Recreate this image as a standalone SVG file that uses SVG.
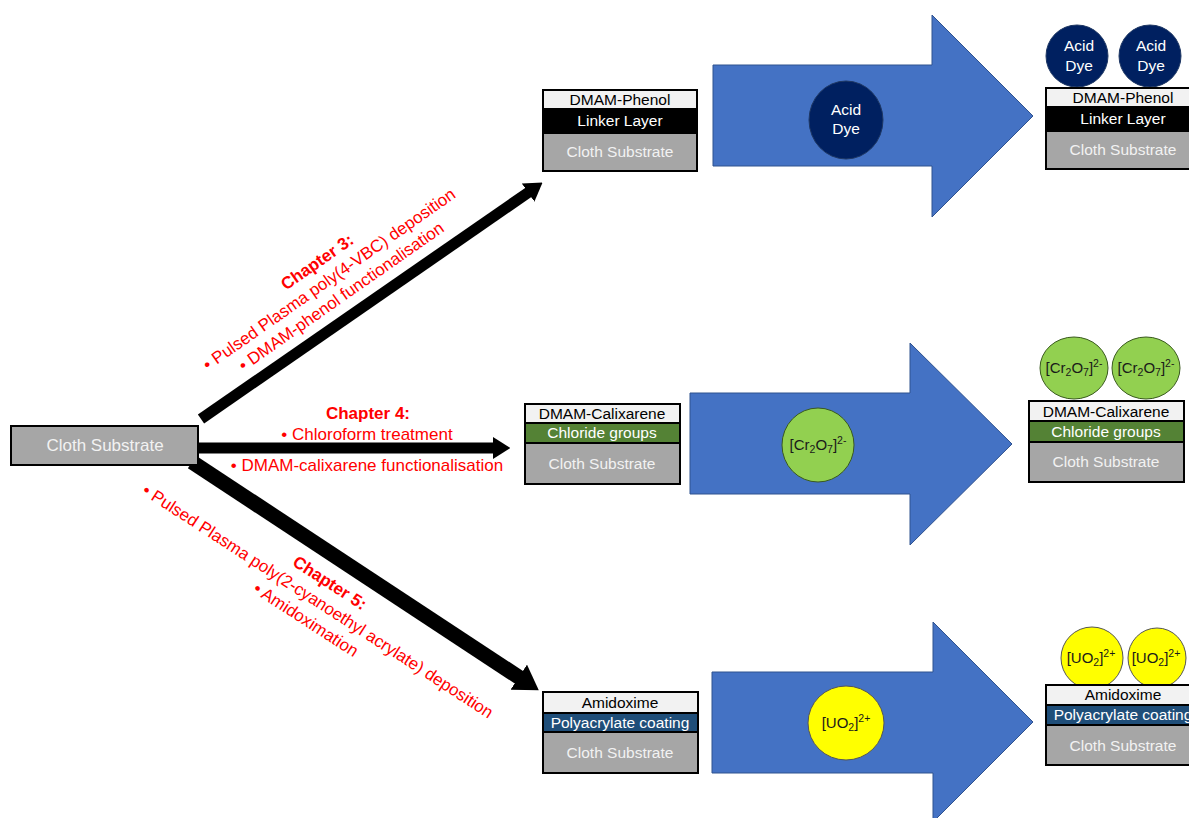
<svg xmlns="http://www.w3.org/2000/svg" width="1189" height="818" viewBox="0 0 1189 818">
<style>
text{font-family:"Liberation Sans",Arial,sans-serif;}
.big{fill:#4472C4;stroke:#2F528F;stroke-width:1;}
.lay{stroke:#000;stroke-width:2;}
.top{fill:#F2F2F2;}
.sub{fill:#A6A6A6;}
.st{font-size:15.5px;text-anchor:middle;}
.dk{fill:#000;}
.wt{fill:#fff;}
.lt{fill:#F2F2F2;}
.red{fill:#FF0000;font-size:17px;text-anchor:middle;}
.b{font-weight:bold;}
.conn{stroke:#000;fill:none;}
.dye{fill:#002060;stroke:#1F3864;stroke-width:1;}
.cr{fill:#92D050;stroke:#3A5A1F;stroke-width:1;}
.uo{fill:#FFFF00;stroke:#555;stroke-width:1;}
.ct{font-size:15px;text-anchor:middle;fill:#1a1a1a;}
.sm{font-size:10.5px;}
</style>
<defs>
<marker id="ah" viewBox="0 0 8 10" refX="0.5" refY="5" markerWidth="1.6" markerHeight="2" orient="auto" markerUnits="strokeWidth">
<path d="M0,0 L8,5 L0,10 z" fill="#000"/>
</marker>
</defs>
<rect width="1189" height="818" fill="#fff"/>

<g id="connectors">
<line class="conn" x1="201" y1="419" x2="529" y2="192" stroke-width="11" marker-end="url(#ah)"/>
<line class="conn" x1="196" y1="448" x2="494" y2="448" stroke-width="11" marker-end="url(#ah)"/>
<line class="conn" x1="192" y1="462" x2="520" y2="678" stroke-width="15" marker-end="url(#ah)"/>
</g>

<g id="label-ch3" transform="translate(329,279) rotate(-35)">
<text class="red b" x="0" y="-15">Chapter 3:</text>
<text class="red" x="0" y="6">• Pulsed Plasma poly(4-VBC) deposition</text>
<text class="red" x="0" y="27">• DMAM-phenol functionalisation</text>
</g>
<g id="label-ch4">
<text class="red b" x="368" y="419">Chapter 4:</text>
<text class="red" x="367" y="440">• Chloroform treatment</text>
<text class="red" x="367" y="471">• DMAM-calixarene functionalisation</text>
</g>
<g id="label-ch5" transform="translate(318,601) rotate(33)">
<text class="red b" x="0" y="-16">Chapter 5:</text>
<text class="red" x="0" y="6">• Pulsed Plasma poly(2-cyanoethyl acrylate) deposition</text>
<text class="red" x="0" y="28">• Amidoximation</text>
</g>

<g id="cloth-substrate">
<rect x="11" y="426" width="187" height="39" class="lay sub"/>
<text x="105" y="451" class="lt" style="font-size:17px;text-anchor:middle">Cloth Substrate</text>
</g>

<g id="arrow-top">
<path class="big" d="M713,65 L932,65 L932,15 L1033,116 L932,217 L932,166 L713,166 Z"/>
<ellipse class="dye" cx="846" cy="120" rx="37" ry="39"/>
<text class="st wt" x="846" y="115">Acid</text>
<text class="st wt" x="846" y="134">Dye</text>
</g>
<g id="arrow-mid">
<path class="big" d="M690,393 L910,393 L910,343 L1012,444 L910,545 L910,494 L690,494 Z"/>
<ellipse class="cr" cx="818" cy="445" rx="36" ry="37"/>
<text class="ct" x="818" y="450">[Cr<tspan dy="3" class="sm">2</tspan><tspan dy="-3">O</tspan><tspan dy="3" class="sm">7</tspan><tspan dy="-3">]</tspan><tspan dy="-6" class="sm">2-</tspan></text>
</g>
<g id="arrow-bot">
<path class="big" d="M712,672 L933,672 L933,622 L1033,722 L933,822 L933,773 L712,773 Z"/>
<ellipse class="uo" cx="846" cy="723" rx="38" ry="37"/>
<text class="ct" x="846" y="728">[UO<tspan dy="3" class="sm">2</tspan><tspan dy="-3">]</tspan><tspan dy="-6" class="sm">2+</tspan></text>
</g>

<g id="stack-phenol-before">
<rect x="543" y="90" width="154" height="19" class="lay top"/>
<rect x="543" y="109" width="154" height="24" class="lay" fill="#000"/>
<rect x="543" y="133" width="154" height="38" class="lay sub"/>
<text class="st dk" x="620" y="105">DMAM-Phenol</text>
<text class="st wt" x="620" y="126">Linker Layer</text>
<text class="st lt" x="620" y="157">Cloth Substrate</text>
</g>
<g id="stack-phenol-after">
<ellipse class="dye" cx="1077" cy="56" rx="31" ry="31"/>
<ellipse class="dye" cx="1150" cy="56" rx="31" ry="31"/>
<text class="st wt" x="1079" y="51">Acid</text>
<text class="st wt" x="1079" y="71">Dye</text>
<text class="st wt" x="1151" y="51">Acid</text>
<text class="st wt" x="1151" y="71">Dye</text>
<rect x="1046" y="88" width="154" height="19" class="lay top"/>
<rect x="1046" y="107" width="154" height="24" class="lay" fill="#000"/>
<rect x="1046" y="131" width="154" height="38" class="lay sub"/>
<text class="st dk" x="1123" y="103">DMAM-Phenol</text>
<text class="st wt" x="1123" y="124">Linker Layer</text>
<text class="st lt" x="1123" y="155">Cloth Substrate</text>
</g>

<g id="stack-calix-before">
<rect x="525" y="404" width="155" height="19" class="lay top"/>
<rect x="525" y="423" width="155" height="20" class="lay" fill="#548235"/>
<rect x="525" y="443" width="155" height="41" class="lay sub"/>
<text class="st dk" x="602" y="419">DMAM-Calixarene</text>
<text class="st wt" x="602" y="438">Chloride groups</text>
<text class="st lt" x="602" y="469">Cloth Substrate</text>
</g>
<g id="stack-calix-after">
<ellipse class="cr" cx="1074" cy="368" rx="34" ry="31"/>
<ellipse class="cr" cx="1146" cy="368" rx="34" ry="31"/>
<text class="ct" x="1074" y="373">[Cr<tspan dy="3" class="sm">2</tspan><tspan dy="-3">O</tspan><tspan dy="3" class="sm">7</tspan><tspan dy="-3">]</tspan><tspan dy="-6" class="sm">2-</tspan></text>
<text class="ct" x="1146" y="373">[Cr<tspan dy="3" class="sm">2</tspan><tspan dy="-3">O</tspan><tspan dy="3" class="sm">7</tspan><tspan dy="-3">]</tspan><tspan dy="-6" class="sm">2-</tspan></text>
<rect x="1029" y="401" width="155" height="20" class="lay top"/>
<rect x="1029" y="421" width="155" height="21" class="lay" fill="#548235"/>
<rect x="1029" y="442" width="155" height="40" class="lay sub"/>
<text class="st dk" x="1106" y="417">DMAM-Calixarene</text>
<text class="st wt" x="1106" y="437">Chloride groups</text>
<text class="st lt" x="1106" y="467">Cloth Substrate</text>
</g>

<g id="stack-amidoxime-before">
<rect x="543" y="692" width="155" height="21" class="lay top"/>
<rect x="543" y="713" width="155" height="19" class="lay" fill="#1F4E79"/>
<rect x="543" y="732" width="155" height="41" class="lay sub"/>
<text class="st dk" x="620" y="708">Amidoxime</text>
<text class="st wt" x="620" y="728">Polyacrylate coating</text>
<text class="st lt" x="620" y="758">Cloth Substrate</text>
</g>
<g id="stack-amidoxime-after">
<ellipse class="uo" cx="1092" cy="658" rx="31" ry="31"/>
<ellipse class="uo" cx="1157" cy="658" rx="29" ry="30"/>
<text class="ct" x="1091" y="663">[UO<tspan dy="3" class="sm">2</tspan><tspan dy="-3">]</tspan><tspan dy="-6" class="sm">2+</tspan></text>
<text class="ct" x="1156" y="663">[UO<tspan dy="3" class="sm">2</tspan><tspan dy="-3">]</tspan><tspan dy="-6" class="sm">2+</tspan></text>
<rect x="1046" y="685" width="155" height="20" class="lay top"/>
<rect x="1046" y="705" width="155" height="20" class="lay" fill="#1F4E79"/>
<rect x="1046" y="725" width="155" height="40" class="lay sub"/>
<text class="st dk" x="1123" y="700">Amidoxime</text>
<text class="st wt" x="1123" y="720">Polyacrylate coating</text>
<text class="st lt" x="1123" y="751">Cloth Substrate</text>
</g>
</svg>
